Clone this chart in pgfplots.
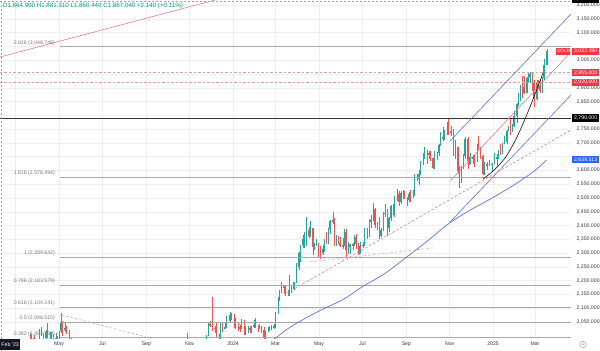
\documentclass[border=0pt]{standalone}
\usepackage{pgfplots}
\pgfplotsset{compat=1.18}
\usepackage{pgfplotstable}
\usepackage{fontspec}
\setmainfont{Liberation Sans}
\definecolor{upc}{HTML}{26A69A}
\definecolor{dnc}{HTML}{EF5350}
\definecolor{hdrc}{HTML}{089981}
\definecolor{tvred}{HTML}{F23645}
\definecolor{tvblue}{HTML}{2962FF}
\definecolor{tvtext}{HTML}{131722}
\definecolor{tvgray}{HTML}{787B86}
\definecolor{gridc}{HTML}{EDEFF3}
\definecolor{tline}{HTML}{5A78D0}
\definecolor{rline}{HTML}{D9838E}
\definecolor{fibc}{HTML}{A8A8A8}
\definecolor{hdash}{HTML}{D2A2A7}
\newcommand\tvf{\fontsize{5.2bp}{6bp}\selectfont}
\newcommand\tvs{\fontsize{4.6bp}{5bp}\selectfont}
\newcommand\tvh{\fontsize{6.2bp}{7bp}\selectfont}

\pgfplotstableread{
d o h l c
79.5 1989 2009 1934 1940
81.5 1940 2003 1935 1993
84.5 1993 2004 1945 1956
89.5 1964 1987 1958 1969
92.5 1969 2025 1950 2020
95.5 2020 2032 2000 2008
98 2008 2010 1981 1992
101.5 1992 2022 1990 2015
103.5 2015 2048 1992 2004
107.5 2004 2015 1981 2005
109.5 2005 2012 1970 2004
112 2004 2007 1970 1989
115.5 1989 2010 1976 1990
117.5 1990 2000 1974 1990
120.5 1990 2019 1970 2016
122.5 2016 2081 2010 2050
125 2050 2055 2000 2022
128.5 2022 2048 2015 2030
130.5 2030 2034 2005 2011
134.5 2011 2022 1985 1989
136.5 1989 1994 1952 1958
300.5 1985 2009 1980 1996
327.5 1991 2003 1988 2002
330.5 2002 2048 1999 2041
332.5 2041 2052 2031 2036
335.5 2036 2140 2017 2029
339.5 2029 2037 2009 2025
341.5 2025 2048 1995 2004
345.5 2004 2006 1973 1979
347.5 1979 2047 1976 2035
350 2035 2048 2015 2027
353.5 2027 2047 2023 2031
355.5 2031 2071 2029 2053
360.5 2053 2088 2051 2077
362.5 2077 2084 2058 2063
366.5 2063 2079 2030 2042
368.5 2042 2064 2024 2045
372.5 2045 2050 2017 2030
374.5 2030 2040 2013 2029
377 2029 2062 2026 2055
380.5 2055 2057 2002 2006
382.5 2006 2036 2004 2029
386.5 2029 2034 2010 2029
388.5 2029 2036 2010 2021
391 2021 2036 2010 2032
394.5 2032 2056 2027 2039
396.5 2039 2065 2030 2039
400.5 2039 2040 2015 2035
402.5 2035 2044 2025 2034
405 2034 2036 2011 2020
408.5 2020 2031 1984 1992
410.5 1992 2016 1990 2013
414.5 2013 2031 2012 2024
416.5 2024 2035 2017 2024
419 2024 2041 2020 2031
422.5 2031 2042 2025 2034
424.5 2034 2088 2030 2083
428.5 2083 2142 2080 2128
430.5 2128 2165 2125 2159
433 2159 2195 2155 2182
436.5 2182 2184 2150 2174
438.5 2174 2180 2146 2155
442.5 2155 2165 2146 2157
444.5 2157 2222 2145 2181
447 2181 2183 2156 2171
450.5 2171 2197 2165 2194
454 2194 2265 2190 2251
457.5 2251 2305 2240 2300
459.5 2300 2330 2268 2329
463.5 2329 2365 2320 2352
465.5 2352 2378 2320 2372
468 2372 2431 2325 2383
471.5 2383 2394 2355 2361
473.5 2361 2417 2358 2391
477.5 2391 2393 2292 2322
479.5 2322 2338 2310 2332
482 2332 2352 2325 2335
485.5 2335 2336 2285 2320
487.5 2320 2326 2277 2301
491.5 2301 2331 2293 2314
493.5 2314 2352 2303 2346
496 2346 2378 2332 2336
499.5 2336 2392 2334 2386
501.5 2386 2422 2370 2415
505.5 2415 2450 2406 2420
507.5 2420 2426 2326 2329
510 2329 2365 2325 2350
513.5 2350 2364 2334 2338
515.5 2338 2360 2323 2327
519.5 2327 2354 2314 2327
521.5 2327 2387 2325 2375
524 2375 2387 2287 2311
527.5 2311 2342 2298 2324
529.5 2324 2335 2296 2333
533.5 2333 2336 2312 2329
535.5 2329 2365 2325 2360
538 2360 2368 2316 2334
541.5 2334 2335 2293 2298
543.5 2298 2339 2297 2326
547.5 2326 2340 2318 2330
550 2330 2393 2326 2392
554.5 2392 2393 2353 2364
556.5 2364 2425 2360 2414
559 2414 2440 2392 2422
562.5 2422 2483 2418 2459
564.5 2459 2464 2393 2401
568.5 2401 2412 2384 2409
570.5 2409 2431 2353 2364
573 2364 2390 2360 2384
576.5 2384 2451 2380 2447
578.5 2447 2477 2432 2443
582.5 2443 2462 2364 2390
584.5 2390 2431 2377 2427
587 2427 2474 2415 2472
590.5 2472 2477 2439 2447
592.5 2447 2509 2432 2507
596.5 2507 2531 2490 2513
598.5 2513 2524 2471 2484
601 2484 2527 2480 2518
604.5 2518 2528 2497 2504
606.5 2504 2524 2495 2503
610.5 2503 2505 2472 2493
612.5 2493 2523 2484 2516
615 2516 2529 2485 2506
618.5 2506 2529 2500 2512
620.5 2512 2586 2509 2578
624.5 2578 2589 2561 2569
626.5 2569 2600 2546 2587
629 2587 2633 2583 2628
632.5 2628 2664 2619 2657
634.5 2657 2685 2643 2658
638.5 2658 2673 2625 2663
640.5 2663 2670 2643 2656
643 2656 2670 2634 2644
646.5 2644 2646 2604 2608
648.5 2608 2669 2604 2657
652.5 2657 2666 2639 2662
654.5 2662 2696 2654 2693
657 2693 2740 2689 2720
660.5 2720 2758 2708 2715
662.5 2715 2748 2712 2747
666.5 2747 2775 2730 2774
668.5 2774 2790 2730 2744
671.5 2744 2762 2725 2736
675.5 2736 2750 2652 2659
677.5 2659 2711 2643 2685
681.5 2685 2686 2589 2598
683.5 2598 2618 2537 2565
686 2565 2615 2555 2612
689.5 2612 2660 2605 2651
691.5 2651 2721 2641 2716
695.5 2716 2720 2605 2633
697.5 2633 2650 2620 2640
699.5 2640 2665 2622 2640
702.5 2640 2657 2625 2650
704.5 2650 2657 2613 2633
708.5 2633 2696 2631 2694
710.5 2694 2726 2677 2680
713 2680 2684 2642 2652
716.5 2652 2658 2583 2587
718.5 2587 2632 2583 2622
722.5 2622 2630 2602 2618
725.5 2618 2639 2615 2621
729.5 2621 2627 2597 2624
732.5 2624 2665 2622 2640
736.5 2640 2660 2615 2648
738.5 2648 2675 2640 2670
741 2670 2697 2656 2663
744.5 2663 2699 2660 2697
746.5 2697 2725 2695 2703
750.5 2703 2746 2696 2745
752.5 2745 2763 2742 2754
755 2754 2786 2730 2740
758.5 2740 2770 2738 2760
760.5 2760 2817 2758 2798
764.5 2798 2845 2772 2843
766.5 2843 2882 2834 2856
769 2856 2911 2853 2907
772.5 2907 2942 2864 2904
774.5 2904 2942 2877 2883
778.5 2883 2938 2882 2935
780.5 2935 2955 2922 2939
783 2939 2956 2918 2951
786.5 2951 2953 2890 2916
788.5 2916 2930 2832 2858
792.5 2858 2928 2856 2918
794.5 2918 2930 2895 2911
797 2911 2930 2880 2889
800.5 2889 2940 2880 2934
802.5 2934 3005 2930 2984
806.5 2984 3040 2982 3032.39
}\candles

\begin{document}
\begin{tikzpicture}
\fill[white] (0bp,-13bp) rectangle (600bp,338bp);
\begin{axis}[
  at={(0bp,0bp)}, anchor=south west,
  scale only axis, width=571bp, height=338bp,
  xmin=36.95, xmax=840.7, ymin=1992, ymax=3218.8,
  clip mode=individual,
  axis line style={draw=none},
  tick style={draw=none},
  major tick length=0pt,
  grid=major,
  major grid style={gridc, line width=0.5bp},
  xtick={59,120,181,243,304,365,425,486,547,609,670,731,790},
  xticklabels={,May,Jul,Sep,Nov,2024,Mar,May,Jul,Sep,Nov,2025,Mar},
  xticklabel style={font=\tvf, text=tvtext!85, anchor=center, yshift=-6bp},
  ytick={2050,2100,2150,2200,2250,2300,2350,2400,2450,2500,2550,2600,2650,2700,2750,2800,2850,2900,2950,3000,3050,3100,3150,3200},
  yticklabels={{2,050.000},{2,100.000},{2,150.000},{2,200.000},{2,250.000},{2,300.000},{2,350.000},{2,400.000},{2,450.000},{2,500.000},{2,550.000},{2,600.000},{},{2,700.000},{2,750.000},{},{2,850.000},{2,900.000},{},{3,000.000},{},{3,100.000},{3,150.000},{3,200.000}},
  yticklabel pos=right,
  yticklabel style={font=\tvf, text=tvtext!85, anchor=west, xshift=2bp},
]
% candle wicks
\addplot[draw=none, mark=none, error bars/.cd, y dir=both, y explicit, error mark=none,
  error bar style={draw=upc, line width=0.4bp}]
  table[x=d, y expr={\thisrow{c}>=\thisrow{o} ? (\thisrow{h}+\thisrow{l})/2 : nan},
        y error expr={(\thisrow{h}-\thisrow{l})/2}] {\candles};
\addplot[draw=none, mark=none, error bars/.cd, y dir=both, y explicit, error mark=none,
  error bar style={draw=dnc, line width=0.4bp}]
  table[x=d, y expr={\thisrow{c}<\thisrow{o} ? (\thisrow{h}+\thisrow{l})/2 : nan},
        y error expr={(\thisrow{h}-\thisrow{l})/2}] {\candles};
% candle bodies
\addplot[draw=none, mark=none, error bars/.cd, y dir=both, y explicit, error mark=none,
  error bar style={draw=upc, line width=1.1bp}]
  table[x=d, y expr={\thisrow{c}>=\thisrow{o} ? (\thisrow{o}+\thisrow{c})/2 : nan},
        y error expr={max(abs(\thisrow{c}-\thisrow{o})/2,1)}] {\candles};
\addplot[draw=none, mark=none, error bars/.cd, y dir=both, y explicit, error mark=none,
  error bar style={draw=dnc, line width=1.1bp}]
  table[x=d, y expr={\thisrow{c}<\thisrow{o} ? (\thisrow{o}+\thisrow{c})/2 : nan},
        y error expr={max(abs(\thisrow{c}-\thisrow{o})/2,1)}] {\candles};

% fibonacci levels
\addplot[fibc, line width=0.9bp] coordinates {(121.4,3048.748) (840.7,3048.748)};
\addplot[fibc, line width=0.9bp] coordinates {(121.4,2576.494) (840.7,2576.494)};
\addplot[fibc, line width=0.9bp] coordinates {(121.4,2284.642) (840.7,2284.642)};
\addplot[fibc, line width=0.9bp] coordinates {(121.4,2183.579) (840.7,2183.579)};
\addplot[fibc, line width=0.9bp] coordinates {(121.4,2104.241) (840.7,2104.241)};
\addplot[fibc, line width=0.9bp] coordinates {(121.4,2048.515) (840.7,2048.515)};
\addplot[fibc, line width=0.9bp] coordinates {(121.4,1992.789) (840.7,1992.789)};

% horizontal levels
\addplot[black!80, line width=1.1bp] coordinates {(36.95,2790) (840.7,2790)};
\addplot[hdash, line width=0.8bp, dash pattern=on 2.5bp off 2bp] coordinates {(36.95,2955) (840.7,2955)};
\addplot[hdash, line width=0.8bp, dash pattern=on 2.5bp off 2bp] coordinates {(36.95,2920) (840.7,2920)};

% trend lines
\addplot[rline, line width=0.6bp] coordinates {(20,3000.3) (400,3260)};
\addplot[rline, line width=0.6bp] coordinates {(670.4,2561.8) (840.7,3030.0)};
\addplot[tline, line width=0.6bp] coordinates {(670.4,2707) (840.7,3168)};
\addplot[tline, line width=0.6bp] coordinates {(670.4,2413) (840.7,2874)};
\addplot[rline, line width=0.6bp, dash pattern=on 2.5bp off 2bp] coordinates {(440.9,2155.3) (840.7,2747)};
\addplot[rline!70, line width=0.6bp, dash pattern=on 2.5bp off 2bp] coordinates {(473.3,2268) (646.5,2319)};
\addplot[gray!60, line width=0.6bp, dash pattern=on 2.5bp off 2bp] coordinates {(124.2,2075.4) (300,1957)};

% moving average
\addplot[tline, line width=0.7bp, smooth] coordinates {
(415,1975) (424,1990) (440,2022) (456,2048) (486,2090) (520,2132) (547,2178)
(578,2225) (609,2285) (639,2345) (670,2410) (700,2458) (731,2502) (762,2550)
(790,2600) (806,2638)};

% black curve
\addplot[black!85, line width=0.7bp, smooth] coordinates {
(716.9,2569.1) (731.0,2598.1) (747.8,2645.3) (761.9,2707.0) (776.0,2786.9) (790.1,2877.6) (801.3,2953.8)};

% fib labels
\tikzset{fiblab/.style={anchor=base east, inner sep=0pt, yshift=2.5bp, font=\tvf, text=tvgray}}
\node[fiblab] at (axis cs:114.4,3048.748) {2.618 (3,048.748)};
\node[fiblab] at (axis cs:114.4,2576.494) {1.618 (2,576.494)};
\node[fiblab] at (axis cs:114.4,2284.642) {1 (2,284.642)};
\node[fiblab] at (axis cs:114.4,2183.579) {0.786 (2,183.579)};
\node[fiblab] at (axis cs:114.4,2104.241) {0.618 (2,104.241)};
\node[fiblab] at (axis cs:114.4,2048.515) {0.5 (2,048.515)};
\node[fiblab] at (axis cs:114.4,1992.789) {0.382 (1,992.789)};

\node[anchor=north west, inner sep=0pt, font=\tvh, text=hdrc, xshift=2.5bp, yshift=-3bp] at (rel axis cs:0,1)
  {O1,864.900 H1,881.310 L1,860.440 C1,867.040 +2.140 (+0.11\%)};

\coordinate (pGOLD) at (axis cs:840.7,3032.39);
\coordinate (p2955) at (axis cs:840.7,2955);
\coordinate (p2920) at (axis cs:840.7,2920);
\coordinate (p2790) at (axis cs:840.7,2790);
\coordinate (pMA) at (axis cs:840.7,2639.513);
\coordinate (pTop) at (axis cs:840.7,3223);
\end{axis}

% crosshair
\draw[gray!70, line width=0.5bp, dash pattern=on 2bp off 2bp] (0bp,336.8bp) -- (600bp,336.8bp);
\draw[gray!70, line width=0.5bp, dash pattern=on 2bp off 2bp] (0.8bp,-13bp) -- (0.8bp,338bp);

% price scale boxes
\tikzset{pbox/.style={anchor=west, inner sep=0pt, minimum width=27bp, minimum height=7.5bp, font=\tvf, text=white, xshift=1bp}}
\node[pbox, fill=tvred] at (pGOLD) {3,032.390};
\node[anchor=east, fill=tvred, text=white, inner sep=0pt, minimum width=14bp, minimum height=7bp, font=\tvs, xshift=-0.5bp] at (pGOLD) {GOLD};
\node[pbox, fill=tvred] at (p2955) {2,955.000};
\node[pbox, fill=tvred] at (p2920) {2,920.000};
\node[pbox, fill=black] at (p2790) {2,790.000};
\node[pbox, fill=tvblue] at (pMA) {2,639.513};
\node[pbox, fill=black] at (pTop) {3,215.874};

% time scale box
\node[anchor=north west, fill=tvtext, text=white, font=\tvf, inner sep=1.3bp, minimum height=11bp] at (0bp,-1bp) {Feb '23};
% bottom right icon
\draw[gray!70, line width=0.5bp] (583bp,-6.5bp) circle (3.3bp);
\draw[gray!70, line width=0.5bp] (581.6bp,-7.2bp) -- (583bp,-5.6bp) -- (584.4bp,-7.2bp);

\pgfresetboundingbox
\path[use as bounding box] (0bp,-13bp) rectangle (600bp,338bp);
\end{tikzpicture}
\end{document}
